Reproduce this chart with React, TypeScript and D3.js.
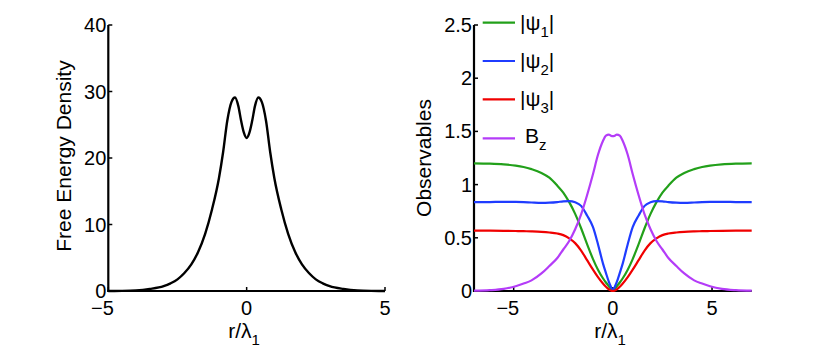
import React from 'react';
import * as d3 from 'd3';

// ---- Left panel: free energy density ----
const feX = [-5, -4.5, -4, -3.5, -3, -2.75, -2.5, -2.25, -2, -1.75, -1.5, -1.25, -1, -0.85, -0.7, -0.55, -0.42, -0.3, -0.2, -0.1, 0, 0.1, 0.2, 0.3, 0.42, 0.55, 0.7, 0.85, 1, 1.25, 1.5, 1.75, 2, 2.25, 2.5, 2.75, 3, 3.5, 4, 4.5, 5];
const feY = [0.005, 0.02, 0.08, 0.3, 0.72, 1.15, 1.75, 2.7, 4.0, 5.9, 8.6, 12.3, 17.0, 20.9, 25.6, 28.4, 29.1, 27.8, 25.6, 23.8, 23.0, 23.8, 25.6, 27.8, 29.1, 28.4, 25.6, 20.9, 17.0, 12.3, 8.6, 5.9, 4.0, 2.7, 1.75, 1.15, 0.72, 0.3, 0.08, 0.02, 0.005];
const feTicksX = [-5, 0, 5];
const feTicksY = [0, 10, 20, 30, 40];

// ---- Right panel: observables ----
const obsX = [-7, -6.2, -5.5, -4.9, -4.5, -4.1, -3.6, -3.2, -2.8, -2.5, -2.2, -1.9, -1.6, -1.3, -1.0, -0.75, -0.5, -0.35, -0.2, -0.1, 0, 0.1, 0.2, 0.35, 0.5, 0.75, 1.0, 1.3, 1.6, 1.9, 2.2, 2.5, 2.8, 3.2, 3.6, 4.1, 4.5, 4.9, 5.5, 6.2, 7];
const psi1 = [1.20, 1.197, 1.19, 1.178, 1.165, 1.145, 1.11, 1.065, 0.99, 0.925, 0.835, 0.725, 0.59, 0.44, 0.3, 0.2, 0.12, 0.08, 0.045, 0.02, 0, 0.02, 0.045, 0.08, 0.12, 0.2, 0.3, 0.44, 0.59, 0.725, 0.835, 0.925, 0.99, 1.065, 1.11, 1.145, 1.165, 1.178, 1.19, 1.197, 1.20];
const psi2 = [0.835, 0.836, 0.838, 0.838, 0.836, 0.832, 0.828, 0.83, 0.836, 0.843, 0.845, 0.834, 0.80, 0.71, 0.6, 0.44, 0.26, 0.17, 0.085, 0.04, 0, 0.04, 0.085, 0.17, 0.26, 0.44, 0.6, 0.71, 0.80, 0.834, 0.845, 0.843, 0.836, 0.83, 0.828, 0.832, 0.836, 0.838, 0.838, 0.836, 0.835];
const psi3 = [0.567, 0.567, 0.566, 0.564, 0.562, 0.56, 0.556, 0.55, 0.54, 0.525, 0.495, 0.45, 0.38, 0.29, 0.2, 0.13, 0.07, 0.04, 0.015, 0.004, 0, 0.004, 0.015, 0.04, 0.07, 0.13, 0.2, 0.29, 0.38, 0.45, 0.495, 0.525, 0.54, 0.55, 0.556, 0.56, 0.562, 0.564, 0.566, 0.567, 0.567];
const bz = [0.003, 0.008, 0.02, 0.045, 0.07, 0.1, 0.165, 0.235, 0.31, 0.39, 0.47, 0.58, 0.72, 0.9, 1.1, 1.28, 1.41, 1.46, 1.47, 1.46, 1.455, 1.46, 1.47, 1.46, 1.41, 1.28, 1.1, 0.9, 0.72, 0.58, 0.47, 0.39, 0.31, 0.235, 0.165, 0.1, 0.07, 0.045, 0.02, 0.008, 0.003];
const obsTicksX = [-5, 0, 5];
const obsTicksY = [0, 0.5, 1, 1.5, 2, 2.5];

const seriesNames = ['1', '2', '3', 'z'];
const seriesColors = ['#22a01a', '#1f3cff', '#f00000', '#b43cf8'];

const FONT = '"Liberation Sans", Arial, Helvetica, sans-serif';
const fmt = (v: number) => (v < 0 ? '\u2212' + Math.abs(v) : String(v));

export default function App() {
  const W = 830, H = 352;
  const top = 25, bottom = 291;
  const tickFs = 20, labelFs = 21, subFs = 15;

  const xL = d3.scaleLinear().domain([-5, 5]).range([108.3, 385]);
  const yL = d3.scaleLinear().domain([0, 40]).range([bottom, top]);
  const xR = d3.scaleLinear().domain([-7, 7]).range([474, 751.7]);
  const yR = d3.scaleLinear().domain([0, 2.5]).range([bottom, top]);

  const lineL = d3.line<number>().x((_, i) => xL(feX[i])).y((d) => yL(d)).curve(d3.curveMonotoneX);
  const lineR = d3.line<number>().x((_, i) => xR(obsX[i])).y((d) => yR(d)).curve(d3.curveMonotoneX);
  const series = [psi1, psi2, psi3, bz];

  const digitHalf = tickFs * 0.556 / 2;

  const axes = (xs: any, ys: any, tx: number[], ty: number[]) => {
    const [ax0, ax1] = xs.range();
    return (
      <g>
        <line x1={ax0} x2={ax0} y1={top} y2={bottom + 1} stroke="#000" strokeWidth={2.2} />
        <line x1={ax0 - 1} x2={ax1} y1={bottom} y2={bottom} stroke="#000" strokeWidth={2.2} />
        {ty.map((t) => (
          <g key={'y' + t}>
            <line x1={ax0} x2={ax0 + 4} y1={ys(t)} y2={ys(t)} stroke="#000" strokeWidth={1.5} />
            <text x={ax0 - 2} y={ys(t)} dy="0.35em" textAnchor="end" fontSize={tickFs} fontFamily={FONT}>{fmt(t)}</text>
          </g>
        ))}
        {tx.map((t) => (
          <g key={'x' + t}>
            <line x1={xs(t)} x2={xs(t)} y1={bottom} y2={bottom - 4} stroke="#000" strokeWidth={1.5} />
            <text x={xs(t) + digitHalf} y={314.5} textAnchor="end" fontSize={tickFs} fontFamily={FONT}>{fmt(t)}</text>
          </g>
        ))}
      </g>
    );
  };

  const xLabel = (cx: number) => (
    <text x={cx} y={337.5} textAnchor="middle" fontSize={labelFs} fontFamily={FONT}>
      r/λ<tspan fontSize={subFs} dy={7}>1</tspan>
    </text>
  );

  const legendY = [22.7, 61, 99.3, 138.3];

  return (
    <svg width={W} height={H} style={{ position: 'absolute', left: 0, top: 0, background: '#fff' }}>
      <rect x={0} y={0} width={W} height={H} fill="#fff" />
      {/* left panel */}
      {axes(xL, yL, feTicksX, feTicksY)}
      <path d={lineL(feY) || ''} fill="none" stroke="#000" strokeWidth={2.4} />
      {xLabel(244)}
      <text transform={`translate(71,156) rotate(-90)`} textAnchor="middle" fontSize={labelFs} fontFamily={FONT}>Free Energy Density</text>

      {/* right panel */}
      {axes(xR, yR, obsTicksX, obsTicksY)}
      {series.map((s, i) => (
        <path key={i} d={lineR(s) || ''} fill="none" stroke={seriesColors[i]} strokeWidth={2.2} />
      ))}
      {xLabel(610)}
      <text transform={`translate(431,158) rotate(-90)`} textAnchor="middle" fontSize={labelFs} fontFamily={FONT}>Observables</text>

      {/* legend */}
      {seriesNames.map((n, i) => (
        <g key={n}>
          <line x1={482.7} x2={515} y1={legendY[i]} y2={legendY[i]} stroke={seriesColors[i]} strokeWidth={2.2} />
          {i < 3 ? (
            <text x={520} y={legendY[i] + 7} fontSize={21} fontFamily={FONT}>
              |ψ<tspan fontSize={subFs} dy={7}>{n}</tspan><tspan dy={-7}>|</tspan>
            </text>
          ) : (
            <text x={525} y={legendY[i] + 5} fontSize={21} fontFamily={FONT}>
              B<tspan fontSize={subFs} dy={7}>{n}</tspan>
            </text>
          )}
        </g>
      ))}
    </svg>
  );
}
